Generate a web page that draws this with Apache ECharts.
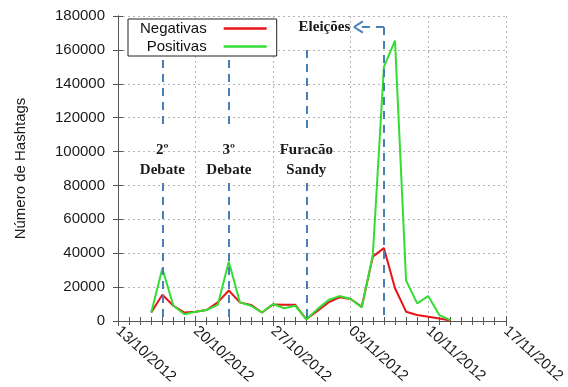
<!DOCTYPE html>
<html>
<head>
<meta charset="utf-8">
<script src="https://cdn.jsdelivr.net/npm/echarts@6/dist/echarts.min.js"></script>
<style>
  html, body { margin: 0; padding: 0; background: #fff; }
  #chart { width: 568px; height: 387px; }
</style>
</head>
<body>
<div id="chart"></div>
<script>
	// dias com dados (dd/mm/aaaa)
	var dias = ['16/10/2012','17/10/2012','18/10/2012','19/10/2012','20/10/2012','21/10/2012','22/10/2012',
		'23/10/2012','24/10/2012','25/10/2012','26/10/2012','27/10/2012','28/10/2012','29/10/2012',
		'30/10/2012','31/10/2012','01/11/2012','02/11/2012','03/11/2012','04/11/2012','05/11/2012',
		'06/11/2012','07/11/2012','08/11/2012','09/11/2012','10/11/2012','11/11/2012','12/11/2012'];
	var negativas = [5000,15500,9000,5000,5500,6500,11000,
		18000,11000,9500,5000,9800,9600,9600,
		1000,6000,11000,14000,13000,8400,38000,
		43000,19300,5500,3500,2500,1500,300];
	var positivas = [5000,31000,9000,4000,5500,6500,9500,
		35000,11000,9000,5000,10000,7500,9000,
		1000,7000,12400,14700,13000,8000,39000,
		150000,165500,24000,10400,14700,3500,500];
	var xTickLabels = ['13/10/2012','20/10/2012','27/10/2012','03/11/2012','10/11/2012','17/11/2012'];
	var yTickLabels = ['0','20000','40000','60000','80000','100000','120000','140000','160000','180000'];
	var eventos = [
		{dia:'17/10/2012', texto:'2º\nDebate'},
		{dia:'23/10/2012', texto:'3º\nDebate'},
		{dia:'30/10/2012', texto:'Furacão\nSandy'}
	];
	var eleicoes = {dia:'06/11/2012', texto:'Eleições'};

	function diaIndex(s){//dias desde 13/10/2012
		var p = s.split('/');
		var t = Date.UTC(+p[2], +p[1]-1, +p[0]);
		return Math.round((t - Date.UTC(2012, 9, 13)) / 86400000);
	}

	var negData = [], posData = [];
	for(var i = 0;i < dias.length;i++){
		var d = diaIndex(dias[i]);
		negData.push([d, negativas[i]]);
		posData.push([d, positivas[i]]);
	}

	var blue = '#4a7ebb';
	var dashStyle = {color: blue, width: 2, type: [8, 6]};
	var markLines = [];
	var markPoints = [];
	for(var i = 0;i < eventos.length;i++){
		var x = diaIndex(eventos[i].dia);
		var topo = (i == 2) ? 160000 : 154000;
		markLines.push([{coord:[x, topo]}, {coord:[x, 112700]}]);
		markLines.push([{coord:[x, 81400]}, {coord:[x, 0]}]);
		markPoints.push({coord:[x, 95000], label:{formatter: eventos[i].texto}});
	}
	var xe = diaIndex(eleicoes.dia);
	markLines.push([{coord:[xe, 173500]}, {coord:[xe, 0]}]);
	markLines.push([{coord:[xe, 173500]}, {coord:[21.45, 173500]}]);
	markLines.push([{coord:[21.3, 173500]}, {coord:[22.1, 176800], lineStyle:{type:'solid'}}]);
	markLines.push([{coord:[21.3, 173500]}, {coord:[22.1, 170200], lineStyle:{type:'solid'}}]);
	markPoints.push({coord:[21.05, 173500], label:{formatter: eleicoes.texto, position:'left', distance:1}});

	var chart = echarts.init(document.getElementById('chart'));
	var axisColor = '#555';
	var gridLine = {show: true, lineStyle: {color: '#b5b5b5', type: [2, 3], width: 1}};
	var option = {
		animation: false,
		backgroundColor: '#fff',
		grid: {left: 118, right: 60, top: 16, bottom: 66},
		legend: {
			data: ['Negativas','Positivas'],
			orient: 'vertical',
			left: 128, top: 19,
			align: 'right',
			icon: 'rect',
			backgroundColor: '#fff',
			borderColor: '#222', borderWidth: 1,
			padding: [2, 10, 2, 12],
			itemWidth: 43, itemHeight: 2.5, itemGap: 3,
			textStyle: {fontFamily: 'Liberation Sans', fontSize: 15, color: '#111', width: 72, align: 'right', padding: [0, 12, 0, 0]}
		},
		xAxis: [{
			type: 'value', min: 0, max: 35, interval: 7,
			axisLine: {show: true, onZero: false, lineStyle: {color: axisColor}},
			axisTick: {show: true, inside: true, length: 5, lineStyle: {color: axisColor}},
			minorTick: {show: true, splitNumber: 7, length: 4, lineStyle: {color: axisColor}},
			splitLine: gridLine,
			axisLabel: {
				rotate: -42, margin: 8,
				fontFamily: 'Liberation Sans', fontSize: 15, color: '#1a1a1a',
				formatter: function(v){ return xTickLabels[Math.round(v / 7)]; }
			}
		}, {
			type: 'value', min: 0, max: 35, interval: 7, position: 'top',
			axisLine: {show: true, lineStyle: {color: axisColor}},
			axisTick: {show: true, inside: true, length: 5, lineStyle: {color: axisColor}},
			minorTick: {show: true, splitNumber: 7, length: 4, lineStyle: {color: axisColor}},
			splitLine: {show: false},
			axisLabel: {show: false}
		}],
		yAxis: [{
			type: 'value', min: 0, max: 180000, interval: 20000,
			name: 'Número de Hashtags', nameLocation: 'middle', nameGap: 90,
			nameTextStyle: {fontFamily: 'Liberation Sans', fontSize: 15, color: '#1a1a1a'},
			axisLine: {show: true, lineStyle: {color: axisColor}},
			axisTick: {show: true, inside: true, length: 5, lineStyle: {color: axisColor}},
			splitLine: gridLine,
			axisLabel: {
				margin: 13, fontFamily: 'Liberation Sans', fontSize: 15, color: '#1a1a1a',
				formatter: function(v){ return yTickLabels[Math.round(v / 20000)]; }
			}
		}, {
			type: 'value', min: 0, max: 180000, interval: 20000, position: 'right',
			axisLine: {show: true, lineStyle: {color: axisColor}},
			axisTick: {show: true, inside: true, length: 5, lineStyle: {color: axisColor}},
			splitLine: {show: false},
			axisLabel: {show: false}
		}],
		series: [{
			name: 'Eventos', type: 'line', data: [], z: 1, silent: true,
			markLine: {
				silent: true, symbol: 'none', animation: false,
				label: {show: false},
				lineStyle: dashStyle,
				data: markLines
			},
			markPoint: {
				silent: true, symbol: 'circle', symbolSize: 0, animation: false,
				label: {
					show: true, position: 'inside',
					fontFamily: 'Liberation Serif', fontWeight: 'bold', fontSize: 15,
					lineHeight: 20, color: '#1a1a1a'
				},
				data: markPoints
			}
		}, {
			name: 'Negativas', type: 'line', data: negData, symbol: 'none', z: 3,
			lineStyle: {color: '#e8141c', width: 2}, itemStyle: {color: '#e8141c'}
		}, {
			name: 'Positivas', type: 'line', data: posData, symbol: 'none', z: 4,
			lineStyle: {color: '#33dd33', width: 2}, itemStyle: {color: '#33dd33'}
		}]
	};
	chart.setOption(option);
</script>
</body>
</html>
